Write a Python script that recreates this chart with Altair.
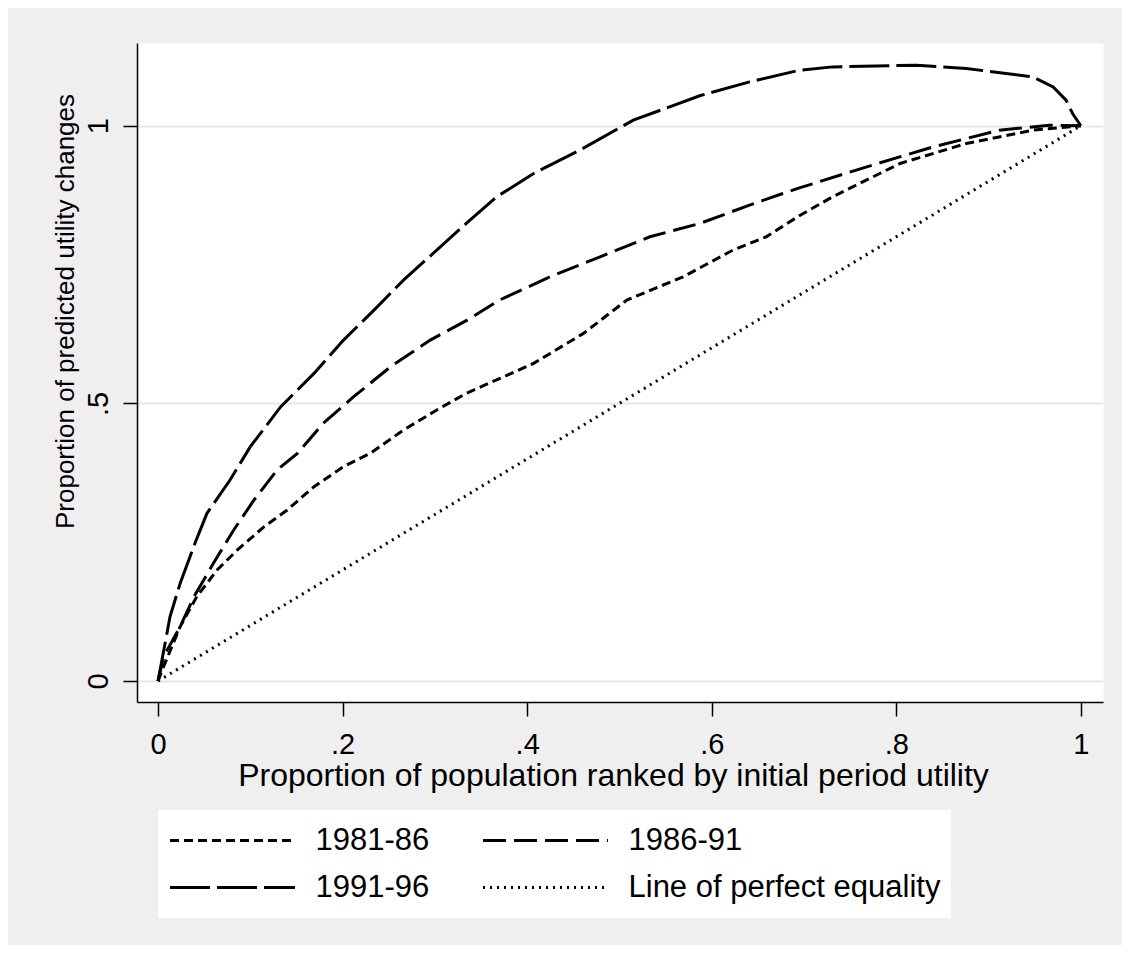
import altair as alt
import pandas as pd

series_names = ["1981-86", "1986-91", "1991-96", "Line of perfect equality"]

x_8186 = [0, .006, .024, .042, .064, .086, .115, .140, .169, .201, .230, .266, .302, .334,
          .407, .461, .508, .569, .623, .659, .695, .731, .804, .876, .948, 1.0]
y_8186 = [0, .026, .098, .152, .200, .236, .278, .308, .350, .386, .410, .452, .488, .518,
          .572, .626, .686, .728, .776, .800, .838, .872, .932, .968, .992, 1.0]

x_8691 = [0, .006, .024, .039, .060, .082, .104, .129, .151, .179, .212, .252, .295, .335,
          .370, .425, .479, .533, .587, .641, .677, .695, .768, .840, .912, .966, 1.0]
y_8691 = [0, .044, .098, .152, .212, .272, .326, .380, .410, .464, .512, .566, .614, .650,
          .686, .728, .764, .800, .824, .857, .878, .888, .926, .962, .992, 1.001, 1.0]

x_9196 = [0, .013, .024, .040, .053, .078, .100, .133, .169, .201, .234, .266, .302, .334,
          .367, .407, .457, .515, .587, .641, .695, .731, .822, .876, .948, .970, .984, .991, 1.0]
y_9196 = [0, .116, .176, .248, .302, .362, .422, .494, .554, .614, .668, .722, .776, .824,
          .872, .914, .956, 1.010, 1.054, 1.079, 1.100, 1.106, 1.109, 1.103, 1.088, 1.070, 1.046, 1.022, 1.0]

x_eq = [0, 1]
y_eq = [0, 1]

x_ticks = [0, 0.2, 0.4, 0.6, 0.8, 1]
y_ticks = [0, 0.5, 1]

dash_by_series = {
    "1981-86": [9, 5],
    "1986-91": [23, 8],
    "1991-96": [40, 7],
    "Line of perfect equality": [2, 5],
}
# legend fills column by column; this order gives rows (1981-86, 1986-91), (1991-96, equality)
legend_order = ["1981-86", "1991-96", "1986-91", "Line of perfect equality"]

rows = []
for name, xs, ys in zip(series_names,
                        [x_8186, x_8691, x_9196, x_eq],
                        [y_8186, y_8691, y_9196, y_eq]):
    for xv, yv in zip(xs, ys):
        rows.append({"series": name, "x": xv, "y": yv})
df = pd.DataFrame(rows)

FONT = "Liberation Sans"
lab_expr = ("datum.value == 0 ? '0' : datum.value == 1 ? '1' : "
            "replace(format(datum.value, '.1f'), '0.', '.')")

chart = alt.Chart(df).mark_line(color="black", strokeWidth=3).encode(
    x=alt.X("x:Q",
            scale=alt.Scale(domain=[-0.0228, 1.024], nice=False, zero=False),
            axis=alt.Axis(values=x_ticks, labelExpr=lab_expr, grid=False,
                          title="Proportion of population ranked by initial period utility",
                          tickSize=14, tickWidth=1.5, tickColor="black",
                          domainColor="black", domainWidth=1.5,
                          labelFontSize=29, labelPadding=14, labelColor="black",
                          labelFont=FONT, labelBaseline="top",
                          titleFont=FONT, titleFontSize=32, titleFontWeight="normal",
                          titleColor="black", titleBaseline="alphabetic",
                          titleX=476, titleY=83, titleAlign="center")),
    y=alt.Y("y:Q",
            scale=alt.Scale(domain=[-0.0378, 1.149], nice=False, zero=False),
            axis=alt.Axis(values=y_ticks, labelExpr=lab_expr, grid=True,
                          gridColor="#E6E6E6", gridWidth=2,
                          title="Proportion of predicted utility changes",
                          tickSize=14, tickWidth=1.5, tickColor="black",
                          domainColor="black", domainWidth=1.5,
                          labelFontSize=29, labelPadding=16, labelColor="black",
                          labelFont=FONT, labelAngle=270, labelAlign="center",
                          labelBaseline="alphabetic",
                          titleFont=FONT, titleFontSize=26, titleFontWeight="normal",
                          titleColor="black", titleAngle=270, titleAlign="center",
                          titleBaseline="alphabetic", titleX=-63.5, titleY=268)),
    strokeDash=alt.StrokeDash(
        "series:N",
        scale=alt.Scale(domain=legend_order,
                        range=[dash_by_series[s] for s in legend_order]),
        legend=alt.Legend(title=None, orient="none", legendX=21, legendY=767,
                          columns=2, fillColor="white", padding=10.5,
                          symbolType="stroke", symbolSize=15625,
                          symbolStrokeColor="black", symbolStrokeWidth=3,
                          clipHeight=40, rowPadding=7, columnPadding=52,
                          labelOffset=19, labelFontSize=31, labelFont=FONT,
                          labelColor="black", labelLimit=800)),
).properties(
    width=966, height=659,
    padding={"left": 129, "top": 35, "right": 19, "bottom": 243},
    autosize=alt.AutoSizeParams(type="none"),
    background="#EFEFEF",
).configure_view(fill="white", stroke="transparent")

chart.save("out.html", embed_options={"renderer": "svg", "actions": False})
